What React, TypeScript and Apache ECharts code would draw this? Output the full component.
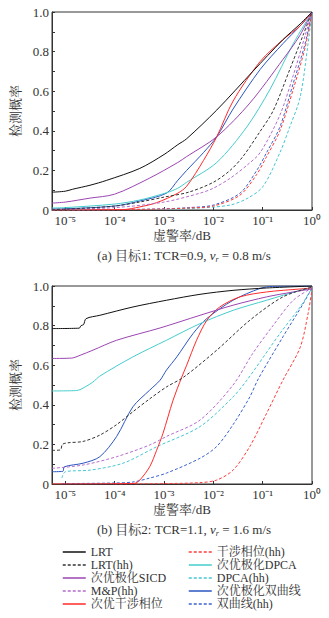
import React, { useEffect, useRef } from "react";
import * as echarts from "echarts";

const FONT = "'Liberation Serif','Noto Serif CJK SC','Noto Sans CJK SC',serif";

const NAMES = [
  "LRT",
  "LRT(hh)",
  "次优极化SICD",
  "M&P(hh)",
  "次优干涉相位",
  "干涉相位(hh)",
  "次优极化DPCA",
  "DPCA(hh)",
  "次优极化双曲线",
  "双曲线(hh)",
];

// x tick exponents (Pfa = 10^x)
const X_TICKS = [-5, -4, -3, -2, -1, 0];
const X_MIN = -5.27;
const X_MAX = 0;

// ---- (a) target 1 : [log10(Pfa), Pd]
const A_LRT = [[-5.27,0.09],[-5,0.095],[-4.85,0.105],[-4.5,0.125],[-4.16,0.15],[-3.49,0.21],[-3,0.28],[-2.72,0.33],[-2.54,0.36],[-1.93,0.505],[-1.2,0.7],[-0.59,0.86],[-0.24,0.94],[0,1]];
const A_LRT_HH = [[-5.27,0.003],[-5,0.004],[-4,0.02],[-3.5,0.04],[-3,0.065],[-2.5,0.09],[-2,0.14],[-1.66,0.2],[-1.4,0.27],[-1.07,0.39],[-0.79,0.5],[-0.45,0.71],[-0.17,0.89],[0,1]];
const A_SICD = [[-5.27,0.035],[-5,0.04],[-4.5,0.06],[-4,0.08],[-3.3,0.16],[-2.72,0.24],[-2.54,0.27],[-1.93,0.37],[-1.26,0.54],[-0.59,0.76],[-0.25,0.88],[0,1]];
const A_MP_HH = [[-5.27,0.002],[-4,0.012],[-3,0.04],[-2.27,0.085],[-2,0.11],[-1.66,0.16],[-1.3,0.23],[-1.05,0.29],[-0.65,0.48],[-0.38,0.68],[-0.14,0.88],[0,1]];
const A_INTF = [[-5.27,0],[-3.83,0.002],[-3.5,0.015],[-3.15,0.037],[-2.72,0.085],[-2.54,0.12],[-2.2,0.25],[-1.93,0.37],[-1.6,0.55],[-1.05,0.75],[-0.59,0.86],[-0.24,0.93],[0,1]];
const A_INTF_HH = [[-5.27,0],[-4,0.001],[-3,0.005],[-2.5,0.01],[-2,0.02],[-1.46,0.075],[-1.12,0.18],[-0.92,0.27],[-0.65,0.4],[-0.38,0.61],[-0.14,0.82],[0,1]];
const A_DPCA = [[-5.27,0.01],[-5,0.012],[-4,0.03],[-3.5,0.05],[-2.95,0.087],[-2.72,0.11],[-2.54,0.14],[-1.93,0.24],[-1.32,0.42],[-0.85,0.61],[-0.38,0.84],[0,1]];
const A_DPCA_HH = [[-5.27,0],[-3,0.003],[-2.3,0.01],[-1.66,0.025],[-1.3,0.06],[-0.99,0.12],[-0.65,0.29],[-0.45,0.42],[-0.24,0.57],[-0.08,0.84],[0,1]];
const A_HYP = [[-5.27,0.005],[-5,0.006],[-4,0.02],[-3.5,0.045],[-2.95,0.085],[-2.72,0.15],[-2.54,0.2],[-2.2,0.29],[-1.93,0.37],[-1.6,0.51],[-1.05,0.71],[-0.59,0.84],[-0.24,0.93],[0,1]];
const A_HYP_HH = [[-5.27,0],[-4,0.002],[-3,0.006],[-2.5,0.012],[-2,0.025],[-1.46,0.085],[-1.12,0.2],[-0.92,0.29],[-0.65,0.42],[-0.38,0.64],[-0.14,0.84],[0,1]];

// ---- (b) target 2
const B_LRT = [[-5.27,0.785],[-4.72,0.787],[-4.68,0.8],[-4.63,0.805],[-4.58,0.835],[-4.3,0.852],[-3.63,0.894],[-2.95,0.928],[-2.27,0.958],[-1.6,0.978],[-0.92,0.99],[0,1]];
const B_LRT_HH = [[-5.27,0.17],[-5.1,0.172],[-5.06,0.2],[-4.95,0.208],[-4.64,0.215],[-4.3,0.247],[-3.96,0.3],[-3.63,0.365],[-3.29,0.43],[-2.95,0.49],[-2.6,0.54],[-1.93,0.676],[-1.26,0.827],[-0.59,0.945],[0,0.995]];
const B_SICD = [[-5.27,0.634],[-4.87,0.636],[-4.7,0.65],[-4.44,0.676],[-3.96,0.726],[-3.08,0.788],[-2.27,0.852],[-1.6,0.903],[-0.92,0.945],[-0.38,0.97],[0,0.985]];
const B_MP_HH = [[-5.27,0.079],[-4.64,0.096],[-3.96,0.138],[-3.29,0.197],[-2.95,0.24],[-2.27,0.323],[-1.6,0.5],[-1.2,0.66],[-0.79,0.8],[-0.38,0.928],[0,0.99]];
const B_INTF = [[-5.27,0],[-3.6,0.003],[-3.49,0.02],[-3.29,0.087],[-3.15,0.17],[-3.02,0.256],[-2.82,0.42],[-2.64,0.54],[-2.54,0.6],[-2.34,0.726],[-2.13,0.827],[-1.87,0.894],[-1.46,0.945],[-0.92,0.97],[-0.24,0.985],[0,0.99]];
const B_INTF_HH = [[-4,0],[-3,0.002],[-2.27,0.007],[-1.93,0.02],[-1.6,0.07],[-1.26,0.19],[-0.92,0.357],[-0.59,0.524],[-0.24,0.69],[-0.08,0.86],[0,0.98]];
const B_DPCA = [[-5.27,0.47],[-4.77,0.472],[-4.6,0.49],[-4.44,0.515],[-4.3,0.545],[-3.63,0.642],[-2.95,0.726],[-2.27,0.81],[-1.6,0.877],[-0.92,0.928],[-0.24,0.978],[0,0.99]];
const B_DPCA_HH = [[-5.07,0.03],[-5,0.062],[-4.5,0.07],[-3.83,0.105],[-3.15,0.188],[-2.27,0.29],[-1.6,0.44],[-1.32,0.524],[-0.65,0.76],[-0.24,0.894],[0,0.99]];
const B_HYP = [[-5.27,0.062],[-5.05,0.064],[-5.02,0.087],[-4.64,0.105],[-4.3,0.138],[-3.96,0.24],[-3.63,0.39],[-3.29,0.474],[-3.08,0.524],[-2.95,0.575],[-2.74,0.642],[-2.41,0.76],[-2.13,0.836],[-1.6,0.928],[-1.05,0.988],[-0.8,0.998],[0,1]];
const B_HYP_HH = [[-5.07,0.002],[-4,0.005],[-3.63,0.01],[-3.29,0.03],[-2.95,0.055],[-2.27,0.13],[-1.93,0.19],[-1.6,0.3],[-1.26,0.44],[-1.09,0.53],[-0.59,0.743],[-0.18,0.91],[0,0.99]];

const SERIES_A = [A_LRT, A_LRT_HH, A_SICD, A_MP_HH, A_INTF, A_INTF_HH, A_DPCA, A_DPCA_HH, A_HYP, A_HYP_HH];
const SERIES_B = [B_LRT, B_LRT_HH, B_SICD, B_MP_HH, B_INTF, B_INTF_HH, B_DPCA, B_DPCA_HH, B_HYP, B_HYP_HH];

const COLORS = ["#111111", "#333333", "#9b45b0", "#b46ccc", "#ff2a2a", "#ff3a3a", "#45cccc", "#45c6d2", "#2a55c0", "#3b62d0"];
const DASHED = [false, true, false, true, false, true, false, true, false, true];

const SUP: Record<string, string> = { "-": "⁻", "0": "⁰", "1": "¹", "2": "²", "3": "³", "4": "⁴", "5": "⁵" };
const supText = (v: number) => "10" + String(Math.round(v)).split("").map((c) => SUP[c] || c).join("");

const AXIS_COLOR = "#333";
const LABEL_COLOR = "#333";

function makeAxes(gridIndex: number) {
  const xAxis = {
    gridIndex,
    type: "value",
    min: X_MIN,
    max: X_MAX,
    splitLine: { show: false },
    axisLine: { show: true, onZero: false, lineStyle: { color: AXIS_COLOR, width: 1 } },
    axisTick: { show: true, inside: true, length: 3, customValues: X_TICKS, lineStyle: { color: AXIS_COLOR } },
    axisLabel: {
      customValues: X_TICKS,
      formatter: (v: number) => supText(v),
      color: LABEL_COLOR,
      fontFamily: FONT,
      fontSize: 13,
      margin: 4,
    },
    name: "虚警率/dB",
    nameLocation: "middle",
    nameGap: 19,
    nameTextStyle: { fontFamily: FONT, fontSize: 13, color: LABEL_COLOR },
  };
  const yAxis = {
    gridIndex,
    type: "value",
    min: 0,
    max: 1,
    interval: 0.1,
    splitLine: { show: false },
    axisLine: { show: true, onZero: false, lineStyle: { color: AXIS_COLOR, width: 1 } },
    axisTick: { show: true, inside: true, length: 3, lineStyle: { color: AXIS_COLOR } },
    axisLabel: {
      formatter: (v: number) => {
        const k = Math.round(v * 10);
        if (k % 2 !== 0) return "";
        return k === 0 ? "0" : (k / 10).toFixed(1);
      },
      color: LABEL_COLOR,
      fontFamily: FONT,
      fontSize: 13,
      margin: 3,
    },
    name: "检测概率",
    nameLocation: "middle",
    nameGap: 28,
    nameTextStyle: { fontFamily: FONT, fontSize: 13, color: LABEL_COLOR },
  };
  return { xAxis, yAxis };
}

export default function App() {
  const ref = useRef<HTMLDivElement>(null);
  useEffect(() => {
    document.body.style.margin = "0";
    if (!ref.current) return;
    const chart = echarts.init(ref.current, undefined, { renderer: "svg" });
    const a = makeAxes(0);
    const b = makeAxes(1);
    const series: any[] = [];
    [SERIES_A, SERIES_B].forEach((group, gi) => {
      group.forEach((data, i) => {
        series.push({
          name: NAMES[i],
          type: "line",
          xAxisIndex: gi,
          yAxisIndex: gi,
          data,
          showSymbol: false,
          symbol: "none",
          smooth: 0.3,
          lineStyle: { color: COLORS[i], width: 1, type: DASHED[i] ? [3, 2] : "solid" },
          itemStyle: { color: COLORS[i] },
          z: 10 - i,
        });
      });
    });
    const legendCommon = {
      orient: "vertical",
      itemWidth: 23,
      itemHeight: 10,
      itemGap: 1,
      textStyle: { fontFamily: FONT, fontSize: 12, color: LABEL_COLOR, lineHeight: 12 },
      lineStyle: { width: 1.5 },
      itemStyle: { color: "rgba(0,0,0,0)", borderWidth: 0, borderColor: "rgba(0,0,0,0)", opacity: 0 },
      selectedMode: false,
    };
    const caption = (y: number, label: string, tcr: string, v: string) => ({
      type: "text",
      x: 184,
      y,
      style: {
        text: `{n|${label} 目标${label === "(a)" ? "1" : "2"}: TCR=${tcr}, }{i|v}{s|r}{n| = ${v} m/s}`,
        align: "center",
        verticalAlign: "middle",
        rich: {
          n: { fontFamily: FONT, fontSize: 13, fill: LABEL_COLOR, lineHeight: 16 },
          i: { fontFamily: FONT, fontSize: 13, fontStyle: "italic", fill: LABEL_COLOR, lineHeight: 16 },
          s: { fontFamily: FONT, fontSize: 8, fontStyle: "italic", fill: LABEL_COLOR, lineHeight: 16, verticalAlign: "bottom", padding: [7, 0, 0, 0] },
        },
      },
    });
    chart.setOption({
      animation: false,
      backgroundColor: "#fff",
      grid: [
        { left: 52, top: 12, width: 260, height: 198, show: true, borderColor: AXIS_COLOR, borderWidth: 1, containLabel: false },
        { left: 52, top: 286, width: 260, height: 198, show: true, borderColor: AXIS_COLOR, borderWidth: 1, containLabel: false },
      ],
      xAxis: [a.xAxis, b.xAxis],
      yAxis: [a.yAxis, b.yAxis],
      legend: [
        { ...legendCommon, left: 57, top: 541, data: NAMES.slice(0, 5) },
        { ...legendCommon, left: 183, top: 541, data: NAMES.slice(5) },
      ],
      graphic: [caption(255, "(a)", "0.9", "0.8"), caption(529, "(b)", "1.1", "1.6")],
      series,
    });
    return () => chart.dispose();
  }, []);
  return <div ref={ref} style={{ width: 329, height: 618 }} />;
}
